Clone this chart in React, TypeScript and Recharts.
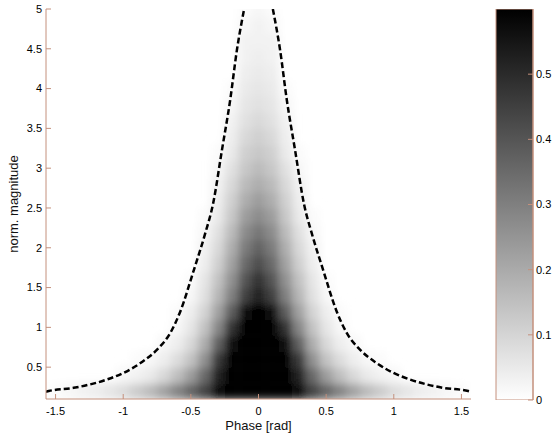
import React from 'react';
import { ComposedChart, Scatter, Line, XAxis, YAxis, BarChart, Bar } from 'recharts';

// grid centres of the density image
const PHASES = [
  -1.5, -1.4, -1.3, -1.2, -1.1, -1.0, -0.9, -0.8, -0.7, -0.6, -0.5, -0.4, -0.3, -0.2, -0.1,
  0,
  0.1, 0.2, 0.3, 0.4, 0.5, 0.6, 0.7, 0.8, 0.9, 1.0, 1.1, 1.2, 1.3, 1.4, 1.5,
];
const MAGS = [
  0.2, 0.4, 0.6, 0.8, 1.0, 1.2, 1.4, 1.6, 1.8, 2.0, 2.2, 2.4, 2.6,
  2.8, 3.0, 3.2, 3.4, 3.6, 3.8, 4.0, 4.2, 4.4, 4.6, 4.8, 5.0,
];
// density in hundredths, one row per MAGS entry, one column per PHASES entry
const DENSITY = [
  [1, 2, 3, 4, 6, 8, 12, 16, 22, 29, 36, 44, 57, 60, 60, 60, 60, 60, 57, 44, 36, 29, 22, 16, 12, 8, 6, 4, 3, 2, 1],
  [0, 0, 0, 0, 0, 2, 3, 5, 9, 15, 23, 35, 52, 60, 60, 60, 60, 60, 52, 35, 23, 15, 9, 5, 3, 2, 0, 0, 0, 0, 0],
  [0, 0, 0, 0, 0, 0, 1, 2, 4, 8, 14, 26, 46, 60, 60, 60, 60, 60, 46, 26, 14, 8, 4, 2, 1, 0, 0, 0, 0, 0, 0],
  [0, 0, 0, 0, 0, 0, 0, 0, 2, 4, 9, 19, 37, 56, 60, 60, 60, 56, 37, 19, 9, 4, 2, 0, 0, 0, 0, 0, 0, 0, 0],
  [0, 0, 0, 0, 0, 0, 0, 0, 0, 2, 6, 14, 28, 48, 60, 60, 60, 48, 28, 14, 6, 2, 0, 0, 0, 0, 0, 0, 0, 0, 0],
  [0, 0, 0, 0, 0, 0, 0, 0, 0, 1, 4, 10, 22, 38, 56, 60, 56, 38, 22, 10, 4, 1, 0, 0, 0, 0, 0, 0, 0, 0, 0],
  [0, 0, 0, 0, 0, 0, 0, 0, 0, 0, 2, 7, 17, 30, 45, 52, 45, 30, 17, 7, 2, 0, 0, 0, 0, 0, 0, 0, 0, 0, 0],
  [0, 0, 0, 0, 0, 0, 0, 0, 0, 0, 1, 6, 14, 26, 40, 48, 40, 26, 14, 6, 1, 0, 0, 0, 0, 0, 0, 0, 0, 0, 0],
  [0, 0, 0, 0, 0, 0, 0, 0, 0, 0, 0, 4, 11, 22, 35, 42, 35, 22, 11, 4, 0, 0, 0, 0, 0, 0, 0, 0, 0, 0, 0],
  [0, 0, 0, 0, 0, 0, 0, 0, 0, 0, 0, 3, 9, 19, 31, 37, 31, 19, 9, 3, 0, 0, 0, 0, 0, 0, 0, 0, 0, 0, 0],
  [0, 0, 0, 0, 0, 0, 0, 0, 0, 0, 0, 2, 7, 16, 27, 32, 27, 16, 7, 2, 0, 0, 0, 0, 0, 0, 0, 0, 0, 0, 0],
  [0, 0, 0, 0, 0, 0, 0, 0, 0, 0, 0, 1, 5, 13, 23, 27, 23, 13, 5, 1, 0, 0, 0, 0, 0, 0, 0, 0, 0, 0, 0],
  [0, 0, 0, 0, 0, 0, 0, 0, 0, 0, 0, 0, 4, 11, 19, 23, 19, 11, 4, 0, 0, 0, 0, 0, 0, 0, 0, 0, 0, 0, 0],
  [0, 0, 0, 0, 0, 0, 0, 0, 0, 0, 0, 0, 3, 9, 16, 19, 16, 9, 3, 0, 0, 0, 0, 0, 0, 0, 0, 0, 0, 0, 0],
  [0, 0, 0, 0, 0, 0, 0, 0, 0, 0, 0, 0, 2, 7, 13, 16, 13, 7, 2, 0, 0, 0, 0, 0, 0, 0, 0, 0, 0, 0, 0],
  [0, 0, 0, 0, 0, 0, 0, 0, 0, 0, 0, 0, 1, 5, 11, 13, 11, 5, 1, 0, 0, 0, 0, 0, 0, 0, 0, 0, 0, 0, 0],
  [0, 0, 0, 0, 0, 0, 0, 0, 0, 0, 0, 0, 0, 4, 9, 11, 9, 4, 0, 0, 0, 0, 0, 0, 0, 0, 0, 0, 0, 0, 0],
  [0, 0, 0, 0, 0, 0, 0, 0, 0, 0, 0, 0, 0, 3, 7, 9, 7, 3, 0, 0, 0, 0, 0, 0, 0, 0, 0, 0, 0, 0, 0],
  [0, 0, 0, 0, 0, 0, 0, 0, 0, 0, 0, 0, 0, 2, 6, 7, 6, 2, 0, 0, 0, 0, 0, 0, 0, 0, 0, 0, 0, 0, 0],
  [0, 0, 0, 0, 0, 0, 0, 0, 0, 0, 0, 0, 0, 1, 5, 6, 5, 1, 0, 0, 0, 0, 0, 0, 0, 0, 0, 0, 0, 0, 0],
  [0, 0, 0, 0, 0, 0, 0, 0, 0, 0, 0, 0, 0, 0, 4, 5, 4, 0, 0, 0, 0, 0, 0, 0, 0, 0, 0, 0, 0, 0, 0],
  [0, 0, 0, 0, 0, 0, 0, 0, 0, 0, 0, 0, 0, 0, 3, 4, 3, 0, 0, 0, 0, 0, 0, 0, 0, 0, 0, 0, 0, 0, 0],
  [0, 0, 0, 0, 0, 0, 0, 0, 0, 0, 0, 0, 0, 0, 3, 3, 3, 0, 0, 0, 0, 0, 0, 0, 0, 0, 0, 0, 0, 0, 0],
  [0, 0, 0, 0, 0, 0, 0, 0, 0, 0, 0, 0, 0, 0, 2, 3, 2, 0, 0, 0, 0, 0, 0, 0, 0, 0, 0, 0, 0, 0, 0],
  [0, 0, 0, 0, 0, 0, 0, 0, 0, 0, 0, 0, 0, 0, 1, 2, 1, 0, 0, 0, 0, 0, 0, 0, 0, 0, 0, 0, 0, 0, 0],
];

// dashed boundary curves
const LEFT_EDGE_PHASE = [-1.571, -1.55, -1.366, -1.12, -0.995, -0.87, -0.75, -0.652, -0.578, -0.478, -0.394, -0.335, -0.27, -0.209, -0.16, -0.106];
const LEFT_EDGE_MAG = [0.19, 0.2, 0.24, 0.345, 0.43, 0.555, 0.72, 0.93, 1.2, 1.72, 2.18, 2.56, 3.23, 3.86, 4.48, 5.0];
const RIGHT_EDGE_PHASE = [0.106, 0.16, 0.209, 0.27, 0.335, 0.394, 0.478, 0.578, 0.652, 0.75, 0.87, 0.995, 1.12, 1.366, 1.55, 1.571];
const RIGHT_EDGE_MAG = [5.0, 4.48, 3.86, 3.23, 2.56, 2.18, 1.72, 1.2, 0.93, 0.72, 0.555, 0.43, 0.345, 0.24, 0.2, 0.19];

const PHASE_TICKS = [-1.5, -1, -0.5, 0, 0.5, 1, 1.5];
const MAG_TICKS = [0.5, 1, 1.5, 2, 2.5, 3, 3.5, 4, 4.5, 5];
const CB_TICKS = [0, 0.1, 0.2, 0.3, 0.4, 0.5];
const CB_MAX = 0.6;

const AXIS = '#c4907c';
const FONT = '"Liberation Sans", Arial, Helvetica, sans-serif';

// plot box of the main chart
const PL = 46;
const PT = 9;
const PW = 425;
const PH = 390;
const PHASE_DOMAIN = [-Math.PI / 2, Math.PI / 2];
const MAG_DOMAIN = [0.1, 5];
const CW = (0.1 * PW) / Math.PI;
const CH = (0.2 * PH) / 4.9;

const toGray = (v: number) => {
  const t = Math.min(v, CB_MAX) / CB_MAX;
  const g = Math.round(255 * (1 - t));
  return `rgb(${g},${g},${g})`;
};

const heatCells: { x: number; y: number; v: number }[] = [];
MAGS.forEach((m, i) => {
  PHASES.forEach((p, j) => {
    const v = DENSITY[i][j] / 100;
    if (v > 0) heatCells.push({ x: p, y: m, v });
  });
});

const leftEdge = LEFT_EDGE_PHASE.map((x, i) => ({ x, y: LEFT_EDGE_MAG[i] }));
const rightEdge = RIGHT_EDGE_PHASE.map((x, i) => ({ x, y: RIGHT_EDGE_MAG[i] }));
const cbData = [{ name: 'scale', v: CB_MAX }];

const renderCell = (props: any) => (
  <rect
    x={props.cx - CW / 2}
    y={props.cy - CH / 2}
    width={CW + 0.6}
    height={CH + 0.6}
    fill={toGray(props.payload.v)}
  />
);

const tickStyle = { fontSize: 11, fill: '#000', fontFamily: FONT };
const labelStyle = { fontSize: 13, fill: '#111', fontFamily: FONT };

export default function App() {
  return (
    <div style={{ position: 'absolute', left: 0, top: 0, width: 553, height: 436, background: '#fff', fontFamily: FONT }}>
      <svg width={0} height={0} style={{ position: 'absolute' }}>
        <defs>
          <filter id="heatBlur" x="-10%" y="-10%" width="120%" height="120%">
            <feGaussianBlur stdDeviation="4.5" />
          </filter>
          <clipPath id="plotClip">
            <rect x={PL} y={PT} width={PW} height={PH} />
          </clipPath>
          <linearGradient id="cbGrad" x1="0" y1="1" x2="0" y2="0">
            <stop offset="0" stopColor="#ffffff" />
            <stop offset="1" stopColor="#000000" />
          </linearGradient>
        </defs>
      </svg>
      <style>{`.heat-layer .recharts-scatter { filter: url(#heatBlur); clip-path: url(#plotClip); }`}</style>

      {/* density image underneath */}
      <div className="heat-layer" style={{ position: 'absolute', left: 0, top: 0 }}>
        <ComposedChart width={480} height={436} margin={{ top: PT, right: 9, bottom: 37, left: PL }}>
          <XAxis dataKey="x" type="number" domain={PHASE_DOMAIN} allowDataOverflow hide />
          <YAxis dataKey="y" type="number" domain={MAG_DOMAIN} allowDataOverflow hide />
          <Scatter data={heatCells} shape={renderCell} isAnimationActive={false} />
        </ComposedChart>
      </div>

      {/* axes and boundary curves on top */}
      <div style={{ position: 'absolute', left: 0, top: 0 }}>
        <ComposedChart width={480} height={436} margin={{ top: PT, right: 9, bottom: 0, left: 0 }}>
          <XAxis
            dataKey="x"
            type="number"
            domain={PHASE_DOMAIN}
            allowDataOverflow
            ticks={PHASE_TICKS}
            height={37}
            tickSize={-5}
            tickMargin={13}
            axisLine={{ stroke: AXIS }}
            tickLine={{ stroke: AXIS }}
            tick={tickStyle}
            label={{ value: 'Phase [rad]', position: 'insideBottom', offset: 6, style: labelStyle }}
          />
          <XAxis
            xAxisId="top"
            orientation="top"
            type="number"
            domain={PHASE_DOMAIN}
            allowDataOverflow
            ticks={PHASE_TICKS}
            height={0}
            tickSize={-5}
            axisLine={{ stroke: AXIS }}
            tickLine={{ stroke: AXIS }}
            tick={false}
          />
          <YAxis
            dataKey="y"
            type="number"
            domain={MAG_DOMAIN}
            allowDataOverflow
            ticks={MAG_TICKS}
            width={PL}
            tickSize={-5}
            tickMargin={9}
            axisLine={{ stroke: AXIS }}
            tickLine={{ stroke: AXIS }}
            tick={tickStyle}
            label={{ value: 'norm. magnitude', angle: -90, position: 'insideLeft', offset: 13, style: { ...labelStyle, textAnchor: 'middle' } }}
          />
          <YAxis
            yAxisId="right"
            orientation="right"
            type="number"
            domain={MAG_DOMAIN}
            allowDataOverflow
            ticks={MAG_TICKS}
            width={0}
            tickSize={-5}
            axisLine={{ stroke: AXIS }}
            tickLine={{ stroke: AXIS }}
            tick={false}
          />
          <Line
            data={leftEdge}
            dataKey="y"
            type="monotone"
            stroke="#000"
            strokeWidth={2.5}
            strokeDasharray="6 3"
            dot={false}
            activeDot={false}
            isAnimationActive={false}
          />
          <Line
            data={rightEdge}
            dataKey="y"
            type="monotone"
            stroke="#000"
            strokeWidth={2.5}
            strokeDasharray="6 3"
            dot={false}
            activeDot={false}
            isAnimationActive={false}
          />
        </ComposedChart>
      </div>

      <div style={{ position: 'absolute', left: 490, top: 0 }}>
        <BarChart width={63} height={436} data={cbData} margin={{ top: PT, right: 0, bottom: 36, left: 6 }} barCategoryGap={0}>
          <XAxis dataKey="name" hide />
          <YAxis
            orientation="right"
            type="number"
            domain={[0, CB_MAX]}
            allowDataOverflow
            ticks={CB_TICKS}
            width={20}
            tickSize={-5}
            tickMargin={8}
            axisLine={{ stroke: AXIS }}
            tickLine={{ stroke: AXIS }}
            tick={tickStyle}
          />
          <YAxis
            yAxisId="left"
            orientation="left"
            type="number"
            domain={[0, CB_MAX]}
            allowDataOverflow
            ticks={CB_TICKS}
            width={0}
            tickSize={-5}
            axisLine={{ stroke: AXIS }}
            tickLine={{ stroke: AXIS }}
            tick={false}
          />
          <Bar dataKey="v" fill="url(#cbGrad)" stroke={AXIS} isAnimationActive={false} />
        </BarChart>
      </div>
    </div>
  );
}
